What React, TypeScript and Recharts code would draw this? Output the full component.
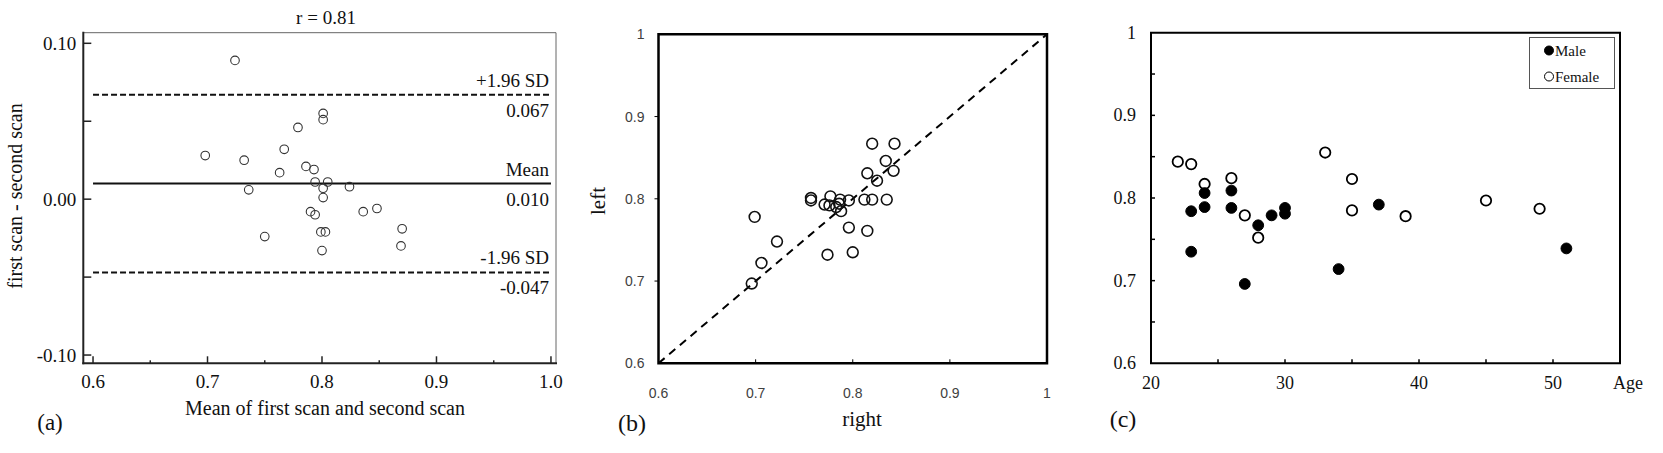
import React from 'react';
import { ScatterChart, Scatter, XAxis, YAxis, ReferenceLine, ReferenceArea, Legend } from 'recharts';

const SERIF = '"Liberation Serif", "Times New Roman", Times, serif';
const SANS = '"Liberation Sans", Arial, sans-serif';

// ---------- Panel (a): Bland-Altman ----------
const baMean = [0.724, 0.698, 0.732, 0.736, 0.750, 0.763, 0.767, 0.779, 0.786, 0.793, 0.794, 0.805, 0.801, 0.801, 0.801, 0.801, 0.790, 0.794, 0.799, 0.803, 0.800, 0.824, 0.836, 0.848, 0.870, 0.869];
const baDiff = [0.089, 0.028, 0.025, 0.006, -0.024, 0.017, 0.032, 0.046, 0.021, 0.019, 0.011, 0.011, 0.007, 0.055, 0.051, 0.001, -0.008, -0.010, -0.021, -0.021, -0.033, 0.008, -0.008, -0.006, -0.019, -0.030];
const baXTicks = [0.6, 0.65, 0.7, 0.75, 0.8, 0.85, 0.9, 0.95, 1.0];
const baYTicks = [-0.1, -0.05, 0, 0.05, 0.1];
const baLimitValues = [0.067, 0.010, -0.047];
const baLimitNames = ['+1.96 SD', 'Mean', '-1.96 SD'];
const baLimitTexts = ['0.067', '0.010', '-0.047'];

// ---------- Panel (b): right vs left ----------
const rightEye = [0.696, 0.699, 0.706, 0.722, 0.757, 0.757, 0.771, 0.777, 0.776, 0.783, 0.787, 0.788, 0.786, 0.796, 0.796, 0.774, 0.800, 0.815, 0.812, 0.820, 0.815, 0.825, 0.820, 0.834, 0.835, 0.843, 0.842];
const leftEye = [0.697, 0.778, 0.722, 0.748, 0.801, 0.798, 0.793, 0.803, 0.792, 0.790, 0.799, 0.785, 0.794, 0.798, 0.765, 0.732, 0.735, 0.761, 0.799, 0.799, 0.831, 0.822, 0.867, 0.846, 0.799, 0.867, 0.834];
const eyeTicks = [0.6, 0.7, 0.8, 0.9, 1];

// ---------- Panel (c): by age and sex ----------
const maleAge = [23, 23, 24, 24, 26, 26, 27, 28, 29, 30, 30, 34, 37, 51];
const maleValue = [0.784, 0.735, 0.806, 0.789, 0.809, 0.788, 0.696, 0.767, 0.779, 0.788, 0.781, 0.714, 0.792, 0.739];
const femaleAge = [22, 23, 24, 26, 27, 28, 33, 35, 35, 39, 45, 49];
const femaleValue = [0.844, 0.841, 0.817, 0.824, 0.779, 0.752, 0.855, 0.823, 0.785, 0.778, 0.797, 0.787];
const ageTicks = [20, 25, 30, 35, 40, 45, 50];
const ratioTicks = [0.6, 0.65, 0.7, 0.75, 0.8, 0.85, 0.9, 0.95, 1];
const seriesNames = ['Male', 'Female'];

const zip = (xs: number[], ys: number[]) => xs.map((x, i) => ({ x, y: ys[i] }));
const baData = zip(baMean, baDiff);
const eyeData = zip(rightEye, leftEye);
const maleData = zip(maleAge, maleValue);
const femaleData = zip(femaleAge, femaleValue);

const onStep = (v: number, step: number) => Math.abs(v / step - Math.round(v / step)) < 1e-6;

type TickOpts = {
  isLabel: (v: number) => boolean;
  hasTick: (v: number) => boolean;
  len: (v: number) => number;
  dir: number;
  off: number;
  fmt: (v: number) => string;
  font: string;
  size: number;
  color: string;
  stroke: string;
  sw: number;
};

const makeXTick = (o: TickOpts) => (props: any) => {
  const { x, y, payload } = props;
  const v = payload.value as number;
  return (
    <g>
      {o.hasTick(v) && <line x1={x} x2={x} y1={y} y2={y + o.dir * o.len(v)} stroke={o.stroke} strokeWidth={o.sw} />}
      {o.isLabel(v) && (
        <text x={x} y={y + o.off} textAnchor="middle" dominantBaseline="central" fontFamily={o.font} fontSize={o.size} fill={o.color}>
          {o.fmt(v)}
        </text>
      )}
    </g>
  );
};

const makeYTick = (o: TickOpts) => (props: any) => {
  const { x, y, payload } = props;
  const v = payload.value as number;
  return (
    <g>
      {o.hasTick(v) && <line x1={x} x2={x + o.dir * o.len(v)} y1={y} y2={y} stroke={o.stroke} strokeWidth={o.sw} />}
      {o.isLabel(v) && (
        <text x={x - o.off} y={y} textAnchor="end" dominantBaseline="central" fontFamily={o.font} fontSize={o.size} fill={o.color}>
          {o.fmt(v)}
        </text>
      )}
    </g>
  );
};

const baXTick = makeXTick({
  isLabel: (v) => onStep(v, 0.1), hasTick: () => true, len: (v) => (onStep(v, 0.1) ? 7 : 3), dir: -1, off: 18.5,
  fmt: (v) => v.toFixed(1), font: SERIF, size: 19, color: '#111', stroke: '#222', sw: 1.5,
});
const baYTick = makeYTick({
  isLabel: (v) => onStep(v, 0.1), hasTick: () => true, len: () => 8, dir: 1, off: 7,
  fmt: (v) => v.toFixed(2), font: SERIF, size: 19, color: '#111', stroke: '#222', sw: 1.5,
});
const eyeFmt = (v: number) => (v === 1 ? '1' : v.toFixed(1));
const eyeXTick = makeXTick({
  isLabel: () => true, hasTick: (v) => v > 0.65 && v < 0.95, len: () => 4, dir: -1, off: 30,
  fmt: eyeFmt, font: SANS, size: 14, color: '#404040', stroke: '#000', sw: 1,
});
const eyeYTick = makeYTick({
  isLabel: () => true, hasTick: (v) => v > 0.65 && v < 0.95, len: () => 4, dir: -1, off: 14,
  fmt: eyeFmt, font: SANS, size: 14, color: '#404040', stroke: '#000', sw: 1,
});
const ageXTick = makeXTick({
  isLabel: (v) => onStep(v, 10), hasTick: (v) => v > 20, len: () => 4, dir: -1, off: 20,
  fmt: (v) => String(v), font: SERIF, size: 18, color: '#111', stroke: '#000', sw: 1.5,
});
const ratioYTick = makeYTick({
  isLabel: (v) => onStep(v, 0.1), hasTick: (v) => v > 0.62 && v < 0.98, len: () => 4, dir: 1, off: 15,
  fmt: eyeFmt, font: SERIF, size: 18, color: '#111', stroke: '#000', sw: 1.5,
});

const circle = (r: number, stroke: string, sw: number, fill: string) => (props: any) => (
  <circle cx={props.cx} cy={props.cy} r={r} fill={fill} stroke={stroke} strokeWidth={sw} />
);

const limitLabel = (name: string, text: string) => (props: any) => {
  const vb = props.viewBox || { x: 0, y: 0, width: 0 };
  const xr = vb.x + vb.width - 2;
  return (
    <g>
      <text x={xr} y={vb.y - 14.5} textAnchor="end" dominantBaseline="central" fontFamily={SERIF} fontSize={19} fill="#111">{name}</text>
      <text x={xr} y={vb.y + 15.5} textAnchor="end" dominantBaseline="central" fontFamily={SERIF} fontSize={19} fill="#111">{text}</text>
    </g>
  );
};

const Txt = ({ x, y, size, rotate, children, family = SERIF }: any) => (
  <div
    style={{
      position: 'absolute', left: x, top: y,
      transform: `translate(-50%, -50%)${rotate ? ' rotate(-90deg)' : ''}`,
      fontFamily: family, fontSize: size, lineHeight: 1, whiteSpace: 'nowrap', color: '#111',
    }}
  >
    {children}
  </div>
);

const LegendBox = () => (
  <svg width={86} height={52} style={{ display: 'block' }}>
    <rect x={0.5} y={0.5} width={85} height={51} fill="#fff" stroke="#555" strokeWidth={1} />
    <circle cx={20} cy={13.5} r={4.5} fill="#000" stroke="#000" />
    <text x={26} y={13.5} dominantBaseline="central" fontFamily={SERIF} fontSize={15} fill="#111">{seriesNames[0]}</text>
    <circle cx={20} cy={39.5} r={4.5} fill="#fff" stroke="#000" strokeWidth={1} />
    <text x={26} y={39.5} dominantBaseline="central" fontFamily={SERIF} fontSize={15} fill="#111">{seriesNames[1]}</text>
  </svg>
);

const BA_X: [number, number] = [0.5915, 1.0044];
const BA_Y: [number, number] = [-0.1053, 0.1068];

export default function App() {
  return (
    <div style={{ position: 'absolute', left: 0, top: 0, width: 1663, height: 453, background: '#fff', overflow: 'hidden' }}>
      {/* Panel (a) */}
      <div style={{ position: 'absolute', left: 0, top: 0 }}>
        <ScatterChart width={580} height={453} margin={{ top: 32.7, right: 24, bottom: 88.7, left: 82.3 }}>
          <XAxis type="number" dataKey="x" domain={BA_X} allowDataOverflow ticks={baXTicks} interval={0} tick={baXTick}
            tickLine={false} axisLine={false} tickSize={0} tickMargin={0} height={1} />
          <YAxis type="number" dataKey="y" domain={BA_Y} allowDataOverflow ticks={baYTicks} interval={0} tick={baYTick}
            tickLine={false} axisLine={false} tickSize={0} tickMargin={0} width={1} />
          <ReferenceLine ifOverflow="visible" segment={[{ x: BA_X[0], y: BA_Y[1] }, { x: BA_X[1], y: BA_Y[1] }]} stroke="#666" strokeWidth={1} />
          <ReferenceLine ifOverflow="visible" segment={[{ x: BA_X[1], y: BA_Y[0] }, { x: BA_X[1], y: BA_Y[1] }]} stroke="#666" strokeWidth={1} />
          <ReferenceLine ifOverflow="visible" segment={[{ x: BA_X[0], y: BA_Y[0] }, { x: BA_X[0], y: BA_Y[1] }]} stroke="#222" strokeWidth={2} strokeLinecap="square" />
          <ReferenceLine ifOverflow="visible" segment={[{ x: BA_X[0], y: BA_Y[0] }, { x: BA_X[1], y: BA_Y[0] }]} stroke="#222" strokeWidth={2} strokeLinecap="square" />
          {baLimitValues.map((v, i) => (
            <ReferenceLine key={i} ifOverflow="visible" segment={[{ x: 0.6, y: v }, { x: 1.0, y: v }]} stroke="#111" strokeWidth={2}
              strokeDasharray={i === 1 ? undefined : '6 3'} label={limitLabel(baLimitNames[i], baLimitTexts[i])} />
          ))}
          <Scatter data={baData} isAnimationActive={false} shape={circle(4.3, '#333', 1.1, 'none')} />
        </ScatterChart>
      </div>

      {/* Panel (b) */}
      <div style={{ position: 'absolute', left: 580, top: 0 }}>
        <ScatterChart width={490} height={453} margin={{ top: 34.3, right: 23, bottom: 88.7, left: 77.5 }}>
          <XAxis type="number" dataKey="x" domain={[0.6, 1]} allowDataOverflow ticks={eyeTicks} interval={0} tick={eyeXTick}
            tickLine={false} axisLine={false} tickSize={0} tickMargin={0} height={1} />
          <YAxis type="number" dataKey="y" domain={[0.6, 1]} allowDataOverflow ticks={eyeTicks} interval={0} tick={eyeYTick}
            tickLine={false} axisLine={false} tickSize={0} tickMargin={0} width={1} />
          <ReferenceLine ifOverflow="visible" segment={[{ x: 0.6, y: 0.6 }, { x: 1, y: 1 }]} stroke="#000" strokeWidth={2} strokeDasharray="8 6" />
          <ReferenceArea x1={0.6} x2={1} y1={0.6} y2={1} fill="none" stroke="#000" strokeWidth={2.5} ifOverflow="visible" />
          <Scatter data={eyeData} isAnimationActive={false} shape={circle(5.4, '#111', 1.6, 'none')} />
        </ScatterChart>
      </div>

      {/* Panel (c) */}
      <div style={{ position: 'absolute', left: 1070, top: 0 }}>
        <ScatterChart width={593} height={453} margin={{ top: 32.7, right: 43, bottom: 88.7, left: 80 }}>
          <XAxis type="number" dataKey="x" domain={[20, 55]} allowDataOverflow ticks={ageTicks} interval={0} tick={ageXTick}
            tickLine={false} axisLine={false} tickSize={0} tickMargin={0} height={1} />
          <YAxis type="number" dataKey="y" domain={[0.6, 1]} allowDataOverflow ticks={ratioTicks} interval={0} tick={ratioYTick}
            tickLine={false} axisLine={false} tickSize={0} tickMargin={0} width={1} />
          <ReferenceArea x1={20} x2={55} y1={0.6} y2={1} fill="none" stroke="#000" strokeWidth={2} ifOverflow="visible" />
          <Scatter name={seriesNames[1]} data={femaleData} isAnimationActive={false} shape={circle(5.2, '#000', 1.8, '#fff')} />
          <Scatter name={seriesNames[0]} data={maleData} isAnimationActive={false} shape={circle(5.4, '#000', 1, '#000')} />
          <Legend layout="vertical" align="center" verticalAlign="middle"
            wrapperStyle={{ left: 459, top: 37, width: 86, height: 52 }} content={() => <LegendBox />} />
        </ScatterChart>
      </div>

      {/* Texts */}
      <Txt x={326} y={17} size={19}>r = 0.81</Txt>
      <Txt x={15} y={196} size={20} rotate>first scan - second scan</Txt>
      <Txt x={325} y={408} size={20}>Mean of first scan and second scan</Txt>
      <Txt x={50} y={422} size={23}>(a)</Txt>
      <Txt x={598} y={201} size={21} rotate>left</Txt>
      <Txt x={862} y={419} size={21}>right</Txt>
      <Txt x={632} y={423} size={24}>(b)</Txt>
      <Txt x={1628} y={383} size={18}>Age</Txt>
      <Txt x={1123} y={419} size={24}>(c)</Txt>
    </div>
  );
}
